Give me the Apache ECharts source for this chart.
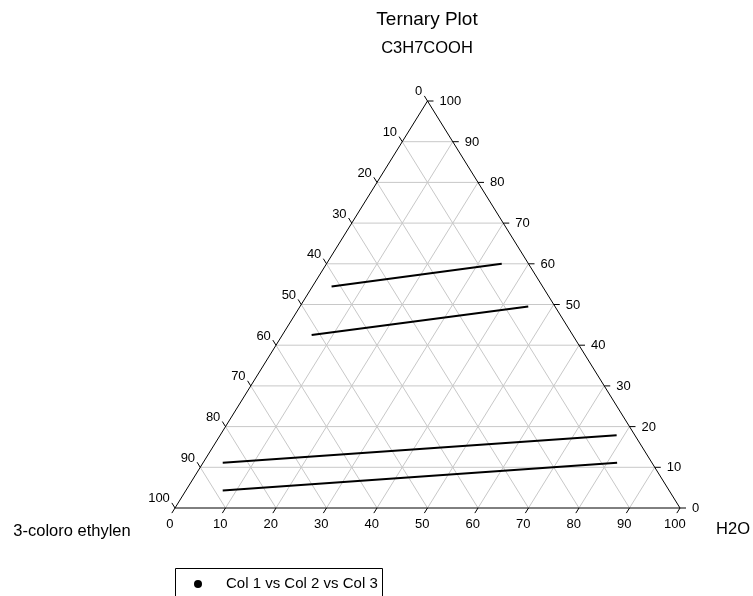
<!DOCTYPE html>
<html><head><meta charset="utf-8">
<script src="https://cdn.jsdelivr.net/npm/echarts@6/dist/echarts.min.js"></script>
<style>html,body{margin:0;padding:0;background:#fff}#c{width:753px;height:596px}</style>
</head><body><div id="c"></div>
<script>
// Tick values shared by the three ternary axes
const ticks = [0, 10, 20, 30, 40, 50, 60, 70, 80, 90, 100];
const gridValues = [10, 20, 30, 40, 50, 60, 70, 80, 90];
// Four segments; each entry is [start, end]
const colC3H7COOH = [[54.4, 60.0], [42.5, 49.5], [11.1, 17.9], [4.3, 11.1]];
const colH2O      = [[3.8, 34.7], [5.8, 45.2], [3.9, 78.5], [7.3, 82.0]];
const colChloro   = [[41.8, 5.3], [51.7, 5.3], [85.0, 3.6], [88.4, 6.9]];
const seriesName = 'Col 1 vs Col 2 vs Col 3';

const FONT = 'Liberation Sans, Arial, Helvetica, sans-serif';

// ternary (a = C3H7COOH top, b = H2O right, c = chloro left) -> cartesian
function toXY(a, b, c) {
  const s = a + b + c;
  return [(b + a / 2) / s * 100, a / s * 100];
}

const chart = echarts.init(document.getElementById('c'), null, {renderer: 'canvas'});

const dataSeries = colC3H7COOH.map((seg, i) => ({
  type: 'line',
  name: seriesName,
  data: [0, 1].map(k => toXY(seg[k], colH2O[i][k], colChloro[i][k])),
  symbol: 'none',
  lineStyle: {color: '#000', width: 2},
  z: 5,
  silent: true,
  animation: false
}));

// grid lines inside the triangle
const gridData = [];
gridValues.forEach(v => { gridData.push([0, v]); gridData.push([1, v]); gridData.push([2, v]); });
const gridSeries = {
  type: 'custom',
  data: gridData,
  silent: true,
  animation: false,
  z: 1,
  renderItem: function (params, api) {
    const fam = api.value(0), v = api.value(1);
    let p1, p2;
    if (fam === 0) { // constant C3H7COOH
      p1 = toXY(v, 0, 100 - v); p2 = toXY(v, 100 - v, 0);
    } else if (fam === 1) { // constant H2O
      p1 = toXY(0, v, 100 - v); p2 = toXY(100 - v, v, 0);
    } else { // constant chloro
      p1 = toXY(0, 100 - v, v); p2 = toXY(100 - v, 0, v);
    }
    const a = api.coord(p1), b = api.coord(p2);
    return {type: 'line', shape: {x1: a[0], y1: a[1], x2: b[0], y2: b[1]},
      style: {stroke: '#c8c8c8', lineWidth: 1}};
  }
};

// triangle frame
const frameSeries = {
  type: 'custom',
  data: [[0]],
  silent: true,
  animation: false,
  z: 3,
  renderItem: function (params, api) {
    const T = api.coord(toXY(100, 0, 0)), L = api.coord(toXY(0, 0, 100)), R = api.coord(toXY(0, 100, 0));
    return {type: 'polygon', shape: {points: [T, L, R]}, style: {fill: 'none', stroke: '#000', lineWidth: 1}};
  }
};

// ticks and labels
const tickSeries = {
  type: 'custom',
  data: ticks.map(v => [v, 0]),
  silent: true,
  animation: false,
  z: 4,
  renderItem: function (params, api) {
    const v = api.value(0);
    const T = api.coord(toXY(100, 0, 0)), L = api.coord(toXY(0, 0, 100)), R = api.coord(toXY(0, 100, 0));
    const len = 6;
    function unit(p, q) { const dx = q[0] - p[0], dy = q[1] - p[1]; const n = Math.hypot(dx, dy); return [dx / n, dy / n]; }
    const dBottom = unit(T, L); // down-left, parallel to left edge
    const dLeft = unit(R, T);   // up-left, parallel to right edge
    const dRight = [1, 0];
    const pB = api.coord(toXY(0, v, 100 - v));
    const pL = api.coord(toXY(100 - v, 0, v));
    const pR = api.coord(toXY(v, 100 - v, 0));
    const eB = [pB[0] + dBottom[0] * len, pB[1] + dBottom[1] * len];
    const eL = [pL[0] + dLeft[0] * len, pL[1] + dLeft[1] * len];
    const eR = [pR[0] + dRight[0] * len, pR[1] + dRight[1] * len];
    const ts = {stroke: '#000', lineWidth: 1};
    const txt = {fill: '#000', fontSize: 13, fontFamily: FONT};
    return {type: 'group', children: [
      {type: 'line', shape: {x1: pB[0], y1: pB[1], x2: eB[0], y2: eB[1]}, style: ts},
      {type: 'line', shape: {x1: pL[0], y1: pL[1], x2: eL[0], y2: eL[1]}, style: ts},
      {type: 'line', shape: {x1: pR[0], y1: pR[1], x2: eR[0], y2: eR[1]}, style: ts},
      {type: 'text', x: eB[0] - 2, y: eB[1] + 11, style: Object.assign({text: String(v), align: 'center', verticalAlign: 'middle'}, txt)},
      {type: 'text', x: eL[0] - 2, y: eL[1] - 4, style: Object.assign({text: String(v), align: 'right', verticalAlign: 'middle'}, txt)},
      {type: 'text', x: eR[0] + 6, y: eR[1] + 0.5, style: Object.assign({text: String(v), align: 'left', verticalAlign: 'middle'}, txt)}
    ]};
  }
};

chart.setOption({
  animation: false,
  backgroundColor: '#fff',
  grid: {left: 175, right: 73, top: 101, bottom: 88, containLabel: false},
  xAxis: {type: 'value', min: 0, max: 100, show: false},
  yAxis: {type: 'value', min: 0, max: 100, show: false},
  graphic: [
    {type: 'text', style: {text: 'Ternary Plot', x: 427, y: 20, align: 'center', verticalAlign: 'middle', fontSize: 19, fontFamily: FONT, fill: '#000'}},
    {type: 'text', style: {text: 'C3H7COOH', x: 427, y: 48, align: 'center', verticalAlign: 'middle', fontSize: 16.5, fontFamily: FONT, fill: '#000'}},
    {type: 'text', style: {text: '3-coloro ethylen', x: 72, y: 531, align: 'center', verticalAlign: 'middle', fontSize: 16.5, fontFamily: FONT, fill: '#000'}},
    {type: 'text', style: {text: 'H2O', x: 733, y: 529, align: 'center', verticalAlign: 'middle', fontSize: 16.5, fontFamily: FONT, fill: '#000'}},
    {type: 'rect', shape: {x: 175.5, y: 568.5, width: 207, height: 40}, style: {fill: '#fff', stroke: '#000', lineWidth: 1}},
    {type: 'circle', shape: {cx: 198, cy: 584, r: 4}, style: {fill: '#000'}},
    {type: 'text', style: {text: seriesName, x: 226, y: 584, align: 'left', verticalAlign: 'middle', fontSize: 15, fontFamily: FONT, fill: '#000'}}
  ],
  series: [gridSeries, frameSeries, tickSeries].concat(dataSeries)
});
</script>
</body></html>
